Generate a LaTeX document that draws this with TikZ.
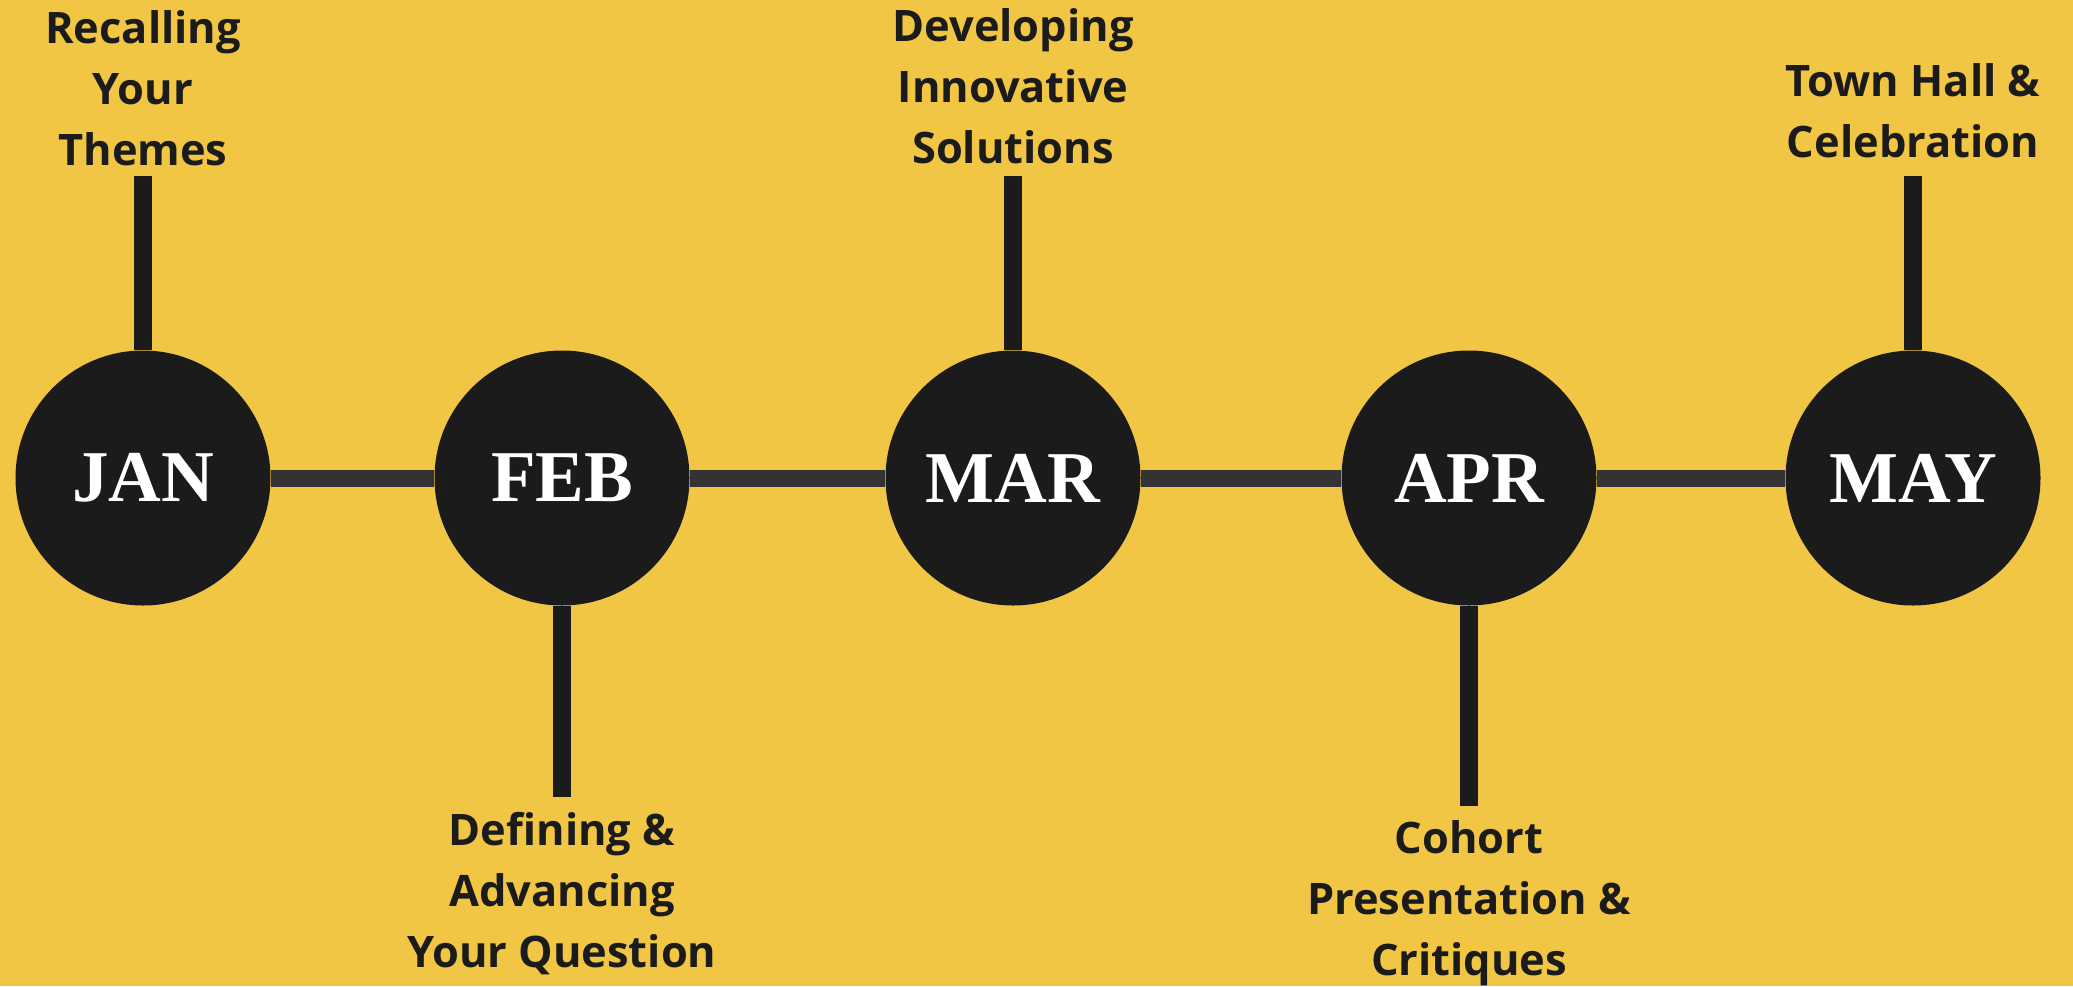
\documentclass[tikz,border=0pt]{standalone}
\usepackage{fontspec}
\setmainfont{Open Sans}
\newfontfamily\monthfont{Liberation Serif}
\definecolor{bgyellow}{HTML}{F1C644}
\definecolor{dot}{HTML}{1B1B1B}
\definecolor{hline}{HTML}{333333}
\tikzset{
  month/.style={circle, fill=dot, minimum size=127.5pt, inner sep=0pt, text=white, font=\monthfont\bfseries\fontsize{36.5}{40}\selectfont},
  label/.style={align=center, inner sep=0pt, text=dot, font=\bfseries\fontsize{21.7}{30.5}\selectfont},
  timeline/.style={draw=hline, line width=8.5pt},
  stem/.style={draw=dot, line width=9pt}
}
\begin{document}
\begin{tikzpicture}[x=0.5pt,y=-0.5pt]
\useasboundingbox[fill=bgyellow] (0,0) rectangle (2073,986);
\node[month] (jan) at (143,478) {JAN};
\node[month] (feb) at (562,478) {FEB};
\node[month] (mar) at (1013,478) {MAR};
\node[month] (apr) at (1469,478) {APR};
\node[month] (may) at (1913,478) {MAY};
\path[timeline] (jan.east) -- (feb.west);
\path[timeline] (feb.east) -- (mar.west);
\path[timeline] (mar.east) -- (apr.west);
\path[timeline] (apr.east) -- (may.west);
\coordinate (janend) at (143,176);
\coordinate (febend) at (562,797);
\coordinate (marend) at (1013,176);
\coordinate (aprend) at (1469,806);
\coordinate (mayend) at (1913,176);
\path[stem] (jan.north) -- (janend);
\path[stem] (feb.south) -- (febend);
\path[stem] (mar.north) -- (marend);
\path[stem] (apr.south) -- (aprend);
\path[stem] (may.north) -- (mayend);
\node[label, anchor=base] (jant) at (143,165) {Recalling\\Your\\Themes};
\node[label, anchor=base] (mart) at (1013,163) {Developing\\Innovative\\Solutions};
\node[label, anchor=base] (mayt) at (1913,157) {Town Hall \&\\Celebration};
\node[label, anchor=base] (febt) at (562,967) {Defining \&\\Advancing\\Your Question};
\node[label, anchor=base] (aprt) at (1469,975) {Cohort\\Presentation \&\\Critiques};
\end{tikzpicture}
\end{document}
